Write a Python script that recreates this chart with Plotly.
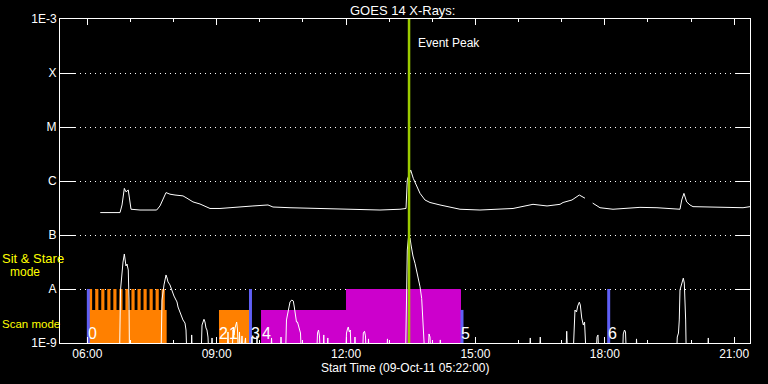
import pandas as pd
import plotly.graph_objects as go

START = pd.Timestamp("2011-10-09 05:22:00")

# ---------------- data: GOES 14 X-ray flux (minutes after start, W/m^2) ----------------
long_min = [56, 76.5, 83.5, 86.3, 89.5, 91.8, 95.0, 98.8, 111.3, 134.5, 139.1, 147.5, 153.0, 160.0,
            167.0, 171.1, 176.7, 185.0, 194.8, 201.7, 208.7, 222.6, 250.4, 268.5, 289.4, 296.3, 320.0,
            352.0, 389.6, 445.2, 473.0, 481.4, 483.2, 487.9, 491.5, 496.3, 500.9, 507.8, 514.8, 528.7,
            542.6, 556.5, 584.3, 630.3, 658.1, 677.6, 695.7, 699.9, 712.3, 722.5, 730.4, 733.0, 741.1,
            751.3, 769.4, 806.9, 830.6, 862.6, 865.0, 868.1, 871.9, 876.5, 880.7, 908.5, 936.3, 950.3, 960.0]
long_flux = [2.6e-7, 2.55e-7, 2.6e-7, 3.6e-7, 7.3e-7, 6.3e-7, 6.8e-7, 3.0e-7, 2.9e-7, 2.9e-7, 3.45e-7,
             6.1e-7, 5.7e-7, 5.5e-7, 5.3e-7, 5.3e-7, 4.8e-7, 4.1e-7, 3.75e-7, 3.45e-7, 3.1e-7, 3.1e-7,
             3.35e-7, 3.45e-7, 3.6e-7, 3.3e-7, 3.2e-7, 3.1e-7, 3.0e-7, 2.9e-7, 3.0e-7, 3.1e-7, 1.05e-6,
             1.6e-6, 1.12e-6, 7.9e-7, 5.9e-7, 4.45e-7, 4.0e-7, 3.6e-7, 3.25e-7, 3.0e-7, 2.9e-7, 3.1e-7,
             3.7e-7, 3.45e-7, 3.7e-7, 4.0e-7, 4.45e-7, 5.5e-7, 4.8e-7, None, 3.9e-7, 3.2e-7, 3.0e-7,
             3.25e-7, 3.2e-7, 3.0e-7, 4.45e-7, 5.9e-7, 4.1e-7, 3.6e-7, 3.35e-7, 3.25e-7, 3.25e-7, 3.2e-7,
             3.35e-7]

B = 5e-10  # below the plotted range
short_min = [56, 82.8, 84.2, 86.3, 87.7, 89.5, 90.4, 91.8, 93.2, 95.0, 96.0, 96.7,
             140.5, 141.9, 144.7, 147.5, 148.9, 150.3, 153.0, 155.4, 157.2, 158.6, 161.4, 162.8, 164.2,
             167.0, 169.3, 171.1, 173.9, 175.3, 176.7,
             182.3, 183.2, 184.3, 196.2, 197.6, 200.3, 201.7, 203.1, 204.5, 205.9, 207.3, 210.1, 211.5, 212.9,
             232.3, 233.7, 235.1, 239.3, 240.7, 242.1, 243.5, 245.8, 247.0, 248.3, 249.7, 251.1, 253.2, 254.6,
             258.1, 259.5, 265.7, 267.1, 268.5, 272.7, 274.1, 275.5, 292.9, 294.3, 295.7, 306.1, 307.5, 308.9,
             313.7, 315.1, 317.6, 320.0, 322.4, 324.6, 326.0, 327.4, 329.0, 330.4, 332.5, 334.6, 336.0,
             356.9, 358.3, 359.7, 361.0, 362.4, 365.9, 367.0, 368.0, 371.5, 372.6, 373.6,
             397.2, 398.6, 400.0, 401.1, 402.5, 403.9, 405.3, 409.0, 410.4, 411.8,
             420.9, 422.0, 423.7, 425.0, 426.2, 428.1, 429.2, 430.5, 454.2, 455.6, 457.0,
             480.7, 482.1, 483.2, 484.9, 487.0, 488.4, 489.3, 491.1, 493.9, 496.0, 498.5, 500.9, 503.2,
             504.3, 505.5, 506.4, 507.8, 512.0, 513.4, 514.8, 516.2, 528.0, 529.1, 530.1,
             652.5, 654.3, 656.0, 666.4, 668.2, 669.9, 703.6, 705.0, 706.4,
             713.7, 715.1, 716.5, 718.6, 720.3, 722.5, 723.9, 725.9, 728.1, 729.8, 731.1, 732.3,
             745.7, 747.1, 748.5, 749.9, 782.6, 783.7, 785.4, 786.8, 788.2, 801.0, 802.1, 803.5,
             857.7, 858.8, 860.5, 861.6, 862.6, 864.0, 865.4, 867.2, 868.6, 869.6, 870.5, 871.4,
             900.8, 902.0, 903.0, 960.0]
short_flux = [B, B, 9.6e-9, 2.25e-8, 3.16e-8, 4.45e-8, 3.16e-8, 2.67e-8, 2.9e-8, 2.25e-8, 6.25e-9, B,
              B, 6.25e-9, 1.19e-8, 1.82e-8, 1.6e-8, 1.35e-8, 1.19e-8, 9.6e-9, 8.8e-9, 7.4e-9, 6.25e-9,
              5.75e-9, 4.64e-9, 3.75e-9, 3.03e-9, 2.67e-9, 2.34e-9, 1.74e-9, B,
              B, 1.41e-9, B, B, 2.15e-9, 2.75e-9, 2.45e-9, 1.9e-9, 1.74e-9, 1.29e-9, B, B, 1.24e-9, B,
              B, 1.6e-9, B, B, 1.74e-9, 1.41e-9, 1.9e-9, 2.45e-9, 1.74e-9, B, 1.6e-9, B, 1.35e-9, B,
              1.24e-9, B, B, 1.29e-9, B, B, 1.35e-9, B, B, 1.24e-9, B, B, 1.29e-9, B,
              B, 2.67e-9, 4.08e-9, 5.75e-9, 6.25e-9, 6.0e-9, 4.64e-9, 3.3e-9, 2.45e-9, 2.45e-9, 1.9e-9,
              1.53e-9, B,
              B, 1.53e-9, 1.74e-9, 1.35e-9, B, B, 1.41e-9, B, B, 1.24e-9, B,
              B, 1.53e-9, 1.82e-9, 1.98e-9, 1.6e-9, 1.74e-9, B, B, 1.29e-9, B,
              B, 1.53e-9, 1.65e-9, 1.35e-9, B, B, 1.19e-9, B, B, 1.19e-9, B,
              B, 6.25e-9, 5.27e-8, 9.18e-8, 8.8e-8, 6.53e-8, 5.27e-8, 4.08e-8, 2.99e-8, 2.25e-8, 1.69e-8,
              1.1e-8, 6.7e-9, 4.08e-9, 2.32e-9, 1.53e-9, B, B, 1.47e-9, 1.29e-9, B, B, 1.14e-9, B,
              B, 1.24e-9, B, B, 1.29e-9, B, B, 1.65e-9, B,
              B, 2.67e-9, 4.08e-9, 3.75e-9, 4.84e-9, 5.7e-9, 5.06e-9, 2.9e-9, 2.15e-9, 2.45e-9, 1.41e-9, B,
              B, 1.29e-9, 1.41e-9, B, B, 1.47e-9, 1.74e-9, 1.6e-9, B, B, 1.19e-9, B,
              B, 1.29e-9, 1.53e-9, 2.67e-9, 9.6e-9, 1.09e-8, 1.29e-8, 1.59e-8, 1.29e-8, 6.8e-9, 2.67e-9, B,
              B, 1.24e-9, B, B]

# ---------------- data: observing modes (minutes after start) ----------------
mode_start = [40.3, 221.2, 279.7, 397.9]
mode_end = [148.4, 263.0, 397.9, 557.9]
mode_kind = ["scan", "scan", "scan", "sit"]
mode_prog = ["orange", "orange", "purple", "purple"]
tooth_start = [40.3, 49.0, 57.4, 65.8, 74.2, 82.6, 91.0, 99.4, 107.8, 116.2, 124.6, 133.0, 141.4]
tooth_len = 4.4
marker_min = [39.4, 265.0, 559.3, 763.4]
marker_kind = ["sit", "sit", "scan", "sit"]
label_text = ["0", "2", "1", "3", "4", "5", "6"]
label_min = [39.4, 221.6, 235.1, 265.7, 280.6, 558.6, 762.4]
event_peak_min = 485.6

y_tickvals = [1e-9, 1e-8, 1e-7, 1e-6, 1e-5, 1e-4, 1e-3]
y_ticktext = ["1E-9", "A", "B", "C", "M", "X", "1E-3"]

# ---------------- styling ----------------
LEVEL = {"scan": 4.1e-9, "sit": 1e-8}
FLOOR = 5e-10
COLORS = {"orange": "#FF8000", "purple": "#CC00CC"}
BLUE = "#5F5FF5"
GREEN = "#9CCB00"
FONT = "Liberation Sans"


def t(m):
    return None if m is None else START + pd.to_timedelta(m, unit="m")


fig = go.Figure()

# mode bars
for prog in ["orange", "purple"]:
    xs, ys = [], []
    for s, e, k, p in zip(mode_start, mode_end, mode_kind, mode_prog):
        if p != prog:
            continue
        lv = LEVEL[k]
        xs += [t(s), t(s), t(e), t(e), t(s), None]
        ys += [FLOOR, lv, lv, FLOOR, FLOOR, None]
    if prog == "orange":
        for s in tooth_start:
            lv = LEVEL["sit"]
            xs += [t(s), t(s), t(s + tooth_len), t(s + tooth_len), t(s), None]
            ys += [FLOOR, lv, lv, FLOOR, FLOOR, None]
    fig.add_trace(go.Scatter(x=xs, y=ys, mode="lines", fill="toself", fillcolor=COLORS[prog],
                             line=dict(width=0, color=COLORS[prog]), hoverinfo="skip",
                             showlegend=False))

# blue mode markers
bx, by = [], []
for m, k in zip(marker_min, marker_kind):
    bx += [t(m), t(m), None]
    by += [FLOOR, LEVEL[k], None]
fig.add_trace(go.Scatter(x=bx, y=by, mode="lines", line=dict(color=BLUE, width=3),
                         hoverinfo="skip", showlegend=False))

# flux curves
fig.add_trace(go.Scatter(x=[t(m) for m in long_min], y=long_flux, mode="lines",
                         line=dict(color="white", width=1), connectgaps=False, showlegend=False))
fig.add_trace(go.Scatter(x=[t(m) for m in short_min], y=short_flux, mode="lines",
                         line=dict(color="white", width=1), showlegend=False))

ev = t(event_peak_min)
fig.add_shape(type="line", x0=ev, x1=ev, xref="x", y0=0, y1=1, yref="paper",
              line=dict(color=GREEN, width=2.5), layer="above")

ann = []
ann.append(dict(text="Event Peak", x=ev, xref="x", y=(343 - 43) / 324, yref="paper",
                xanchor="left", yanchor="middle", xshift=7, showarrow=False,
                font=dict(color="white", size=12, family=FONT)))
for txt, m in zip(label_text, label_min):
    ann.append(dict(text=txt, x=t(m), xref="x", y=(343 - 333) / 324, yref="paper",
                    xanchor="left", yanchor="middle", xshift=-2, showarrow=False,
                    font=dict(color="white", size=16, family=FONT)))
ann.append(dict(text="GOES 14 X-Rays:", x=0.5, xref="paper", y=(343 - 10) / 324, yref="paper",
                xanchor="center", yanchor="middle", xshift=-3, showarrow=False,
                font=dict(color="white", size=13, family=FONT)))
ann.append(dict(text="Start Time (09-Oct-11 05:22:00)", x=0.5, xref="paper", y=(343 - 368) / 324,
                yref="paper", xanchor="center", yanchor="middle", showarrow=False,
                font=dict(color="white", size=12, family=FONT)))
ann.append(dict(text="Sit & Stare", x=0, xref="paper", y=(343 - 258) / 324, yref="paper",
                xanchor="left", yanchor="middle", xshift=-60, showarrow=False,
                font=dict(color="#FFFF00", size=13, family=FONT)))
ann.append(dict(text="mode", x=0, xref="paper", y=(343 - 272) / 324, yref="paper",
                xanchor="center", yanchor="middle", xshift=-35, showarrow=False,
                font=dict(color="#FFFF00", size=12, family=FONT)))
ann.append(dict(text="Scan mode", x=0, xref="paper", y=(343 - 324) / 324, yref="paper",
                xanchor="left", yanchor="middle", xshift=-60, showarrow=False,
                font=dict(color="#FFFF00", size=11.5, family=FONT)))

fig.update_layout(
    width=768, height=384,
    margin=dict(l=60, r=18, t=19, b=41),
    paper_bgcolor="black", plot_bgcolor="black",
    showlegend=False,
    annotations=ann,
    xaxis=dict(type="date", range=[t(0), t(960)], showline=True, linecolor="white", linewidth=1,
               mirror="ticks", ticks="inside", ticklen=6, tickwidth=1, tickcolor="white",
               tick0="2011-10-09 00:00", dtick=3 * 3600000, tickformat="%H:%M",
               tickfont=dict(color="white", size=12, family=FONT), showgrid=False, zeroline=False,
               automargin=False,
               minor=dict(dtick=3600000, ticks="inside", ticklen=3, tickcolor="white", showgrid=False)),
    yaxis=dict(type="log", range=[-9, -3], tickvals=y_tickvals, ticktext=y_ticktext,
               ticks="inside", ticklen=15, tickwidth=1, tickcolor="white",
               showline=True, linecolor="white", linewidth=1, mirror="ticks",
               showgrid=True, gridcolor="white", gridwidth=1, griddash="1px,4px",
               zeroline=False, automargin=False,
               tickfont=dict(color="white", size=12, family=FONT)),
)

fig.write_html("out.html",
               config={"displayModeBar": False},
               post_script="document.body.style.margin='0px';"
                           "document.body.style.background='black';"
                           "document.body.style.overflow='hidden';")
